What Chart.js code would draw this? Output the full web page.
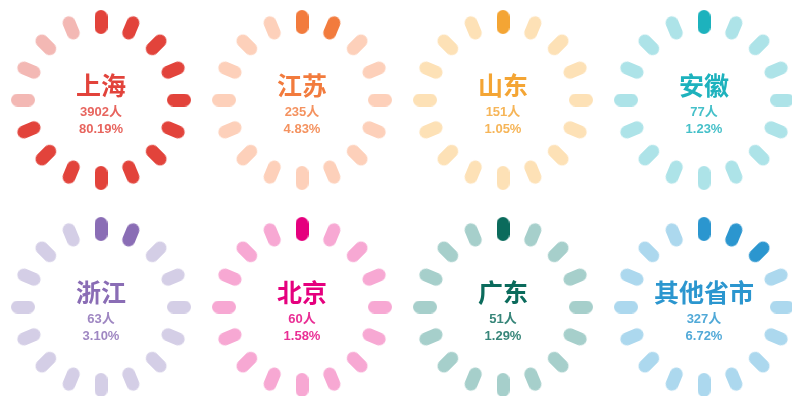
<!DOCTYPE html>
<html lang="zh-CN">
<head>
<meta charset="utf-8">
<title>各省市人数分布</title>
<script src="https://cdn.jsdelivr.net/npm/chart.js@4.4.1/dist/chart.umd.min.js"></script>
<style>
  html, body { margin: 0; padding: 0; background: #fff; }
  body {
    width: 792px; height: 396px; position: relative; overflow: hidden;
    font-family: "Liberation Sans", Arial, "Noto Sans CJK SC", sans-serif;
  }
  .cell { position: absolute; width: 200px; height: 200px; }
  .cell canvas { position: absolute; left: 0; top: 0; }
  .label {
    position: absolute; left: 0; width: 200px; text-align: center;
    font-weight: bold; line-height: 1; white-space: nowrap; transform: translateY(-50%);
  }
  .name { font-family: "Noto Sans CJK SC", sans-serif; font-size: 25px; font-weight: 700; top: 84px; }
  .count { font-size: 13px; top: 111px; }
  .share { font-size: 13px; top: 128px; }
</style>
</head>
<body>
<div id="board"></div>
<script>
  "use strict";

  const regions = ["上海", "江苏", "山东", "安徽", "浙江", "北京", "广东", "其他省市"];
  const people = [3902, 235, 151, 77, 63, 60, 51, 327];
  const shares = [80.19, 4.83, 1.05, 1.23, 3.10, 1.58, 1.29, 6.72];
  const litSegments = [12, 2, 1, 1, 2, 1, 1, 3];

  const darkColors = ["#e2433b", "#f27b3d", "#f4a534", "#1db2bd", "#8a6db5", "#e5007e", "#0b6b5c", "#2b96cf"];
  const lightColors = ["#f3b8b4", "#fdd0ba", "#fde1b6", "#ade3e8", "#d4cee6", "#f7a8d3", "#a6cfcb", "#acd8ee"];

  const SEGMENTS = 16;
  const RING = 78;       // distance from centre to each pill
  const PILL_W = 13;
  const PILL_H = 24;
  const centersX = [101, 302, 503, 704];
  const centersY = [100, 307];

  function pill(color) {
    const c = document.createElement("canvas");
    c.width = PILL_W;
    c.height = PILL_H;
    const g = c.getContext("2d");
    const r = PILL_W / 2;
    g.fillStyle = color;
    g.beginPath();
    g.arc(r, r, r, Math.PI, 0);
    g.arc(r, PILL_H - r, r, 0, Math.PI);
    g.closePath();
    g.fill();
    return c;
  }

  function drawGauge(index) {
    const cell = document.createElement("div");
    cell.className = "cell";
    cell.style.left = (centersX[index % 4] - 100) + "px";
    cell.style.top = (centersY[Math.floor(index / 4)] - 100) + "px";

    const canvas = document.createElement("canvas");
    canvas.width = 200;
    canvas.height = 200;
    cell.appendChild(canvas);

    const color = darkColors[index];
    const lines = [
      ["name", regions[index], 1],
      ["count", people[index] + "人", 0.82],
      ["share", shares[index].toFixed(2) + "%", 0.82]
    ];
    lines.forEach(([cls, text, alpha]) => {
      const el = document.createElement("div");
      el.className = "label " + cls;
      el.textContent = text;
      el.style.color = color;
      el.style.opacity = alpha;
      cell.appendChild(el);
    });

    document.getElementById("board").appendChild(cell);

    const lit = litSegments[index];
    const darkPill = pill(color);
    const lightPill = pill(lightColors[index]);

    new Chart(canvas, {
      type: "radar",
      data: {
        labels: Array.from({ length: SEGMENTS }, (_, i) => String(i)),
        datasets: [{
          data: Array(SEGMENTS).fill(RING),
          showLine: false,
          borderWidth: 0,
          backgroundColor: "transparent",
          fill: false,
          pointRadius: 6,
          pointHoverRadius: 6,
          pointStyle: (ctx) => (ctx.dataIndex < lit ? darkPill : lightPill),
          pointRotation: (ctx) => ctx.dataIndex * 360 / SEGMENTS
        }]
      },
      options: {
        responsive: false,
        animation: false,
        events: [],
        layout: { padding: 0 },
        plugins: { legend: { display: false }, tooltip: { enabled: false } },
        scales: {
          r: { display: false, min: 0, max: 100, startAngle: 0 }
        }
      }
    });
  }

  regions.forEach((_, i) => drawGauge(i));
</script>
</body>
</html>
